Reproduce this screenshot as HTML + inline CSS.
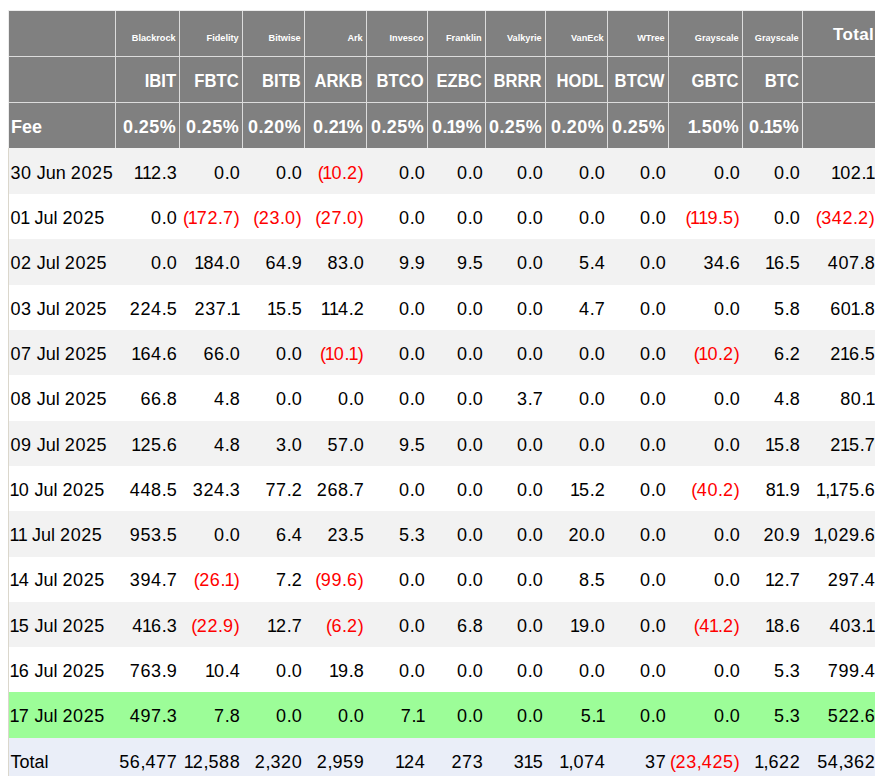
<!DOCTYPE html><html><head><meta charset="utf-8"><style>

html,body{margin:0;padding:0;background:#fff;}
body{width:875px;height:776px;overflow:hidden;position:relative;font-family:"Liberation Sans",sans-serif;}
div{position:absolute;}
.t,.h1,.tot,.h2,.h3,.n{white-space:nowrap;line-height:1;}
.t{font-size:18px;color:#000;}
.t.r{color:#ff0000;}
.t{letter-spacing:0.6px;}
.t .o{letter-spacing:-0.9px;margin-left:-0.9px;}
.t .p{letter-spacing:0;}
.t .q{letter-spacing:-0.5px;}
.h1{font-size:9.2px;font-weight:bold;color:#fff;}
.tot{font-size:17px;font-weight:bold;color:#fff;letter-spacing:0.35px;}
.h2{font-size:17.5px;font-weight:bold;color:#fff;transform:scaleX(0.95);transform-origin:100% 50%;}
.h3{font-size:18px;font-weight:bold;color:#fff;letter-spacing:0.4px;}
.h3 .o{letter-spacing:-1.3px;margin-left:-1.3px;}
.h3.z{letter-spacing:0;}

</style></head><body>
<div style="left:8px;top:10px;width:869px;height:1px;background:#ececec"></div>
<div style="left:8px;top:10px;width:1px;height:138px;background:#ececec"></div>
<div style="left:9px;top:11px;width:868px;height:137px;background:#808080"></div>
<div style="left:9px;top:56px;width:868px;height:1px;background:#dcdcdc"></div>
<div style="left:9px;top:102px;width:868px;height:1px;background:#dcdcdc"></div>
<div style="left:115px;top:11px;width:1px;height:137px;background:#dcdcdc"></div>
<div style="left:179px;top:11px;width:1px;height:137px;background:#dcdcdc"></div>
<div style="left:242px;top:11px;width:1px;height:137px;background:#dcdcdc"></div>
<div style="left:304px;top:11px;width:1px;height:137px;background:#dcdcdc"></div>
<div style="left:366px;top:11px;width:1px;height:137px;background:#dcdcdc"></div>
<div style="left:427px;top:11px;width:1px;height:137px;background:#dcdcdc"></div>
<div style="left:485px;top:11px;width:1px;height:137px;background:#dcdcdc"></div>
<div style="left:545px;top:11px;width:1px;height:137px;background:#dcdcdc"></div>
<div style="left:607px;top:11px;width:1px;height:137px;background:#dcdcdc"></div>
<div style="left:668px;top:11px;width:1px;height:137px;background:#dcdcdc"></div>
<div style="left:742px;top:11px;width:1px;height:137px;background:#dcdcdc"></div>
<div style="left:802px;top:11px;width:1px;height:137px;background:#dcdcdc"></div>
<div style="left:9px;top:148px;width:868px;height:46px;background:#f2f2f2"></div>
<div style="left:9px;top:194px;width:868px;height:45px;background:#ffffff"></div>
<div style="left:9px;top:239px;width:868px;height:46px;background:#f2f2f2"></div>
<div style="left:9px;top:285px;width:868px;height:45px;background:#ffffff"></div>
<div style="left:9px;top:330px;width:868px;height:45px;background:#f2f2f2"></div>
<div style="left:9px;top:375px;width:868px;height:46px;background:#ffffff"></div>
<div style="left:9px;top:421px;width:868px;height:45px;background:#f2f2f2"></div>
<div style="left:9px;top:466px;width:868px;height:45px;background:#ffffff"></div>
<div style="left:9px;top:511px;width:868px;height:46px;background:#f2f2f2"></div>
<div style="left:9px;top:557px;width:868px;height:45px;background:#ffffff"></div>
<div style="left:9px;top:602px;width:868px;height:45px;background:#f2f2f2"></div>
<div style="left:9px;top:647px;width:868px;height:45px;background:#ffffff"></div>
<div style="left:9px;top:692px;width:868px;height:46px;background:#9cfd98"></div>
<div style="left:9px;top:738px;width:868px;height:46px;background:#eaeef8"></div>
<div style="left:8px;top:148px;width:1px;height:640px;background:#dbd7cc"></div>
<div class="h1" style="right:699.30px;top:34.21px">Blackrock</div>
<div class="h2" style="right:699.30px;top:73.19px">IBIT</div>
<div class="h3" style="right:698.90px;top:118.36px">0.25%</div>
<div class="h1" style="right:636.30px;top:34.21px">Fidelity</div>
<div class="h2" style="right:636.30px;top:73.19px">FBTC</div>
<div class="h3" style="right:635.90px;top:118.36px">0.25%</div>
<div class="h1" style="right:574.30px;top:34.21px">Bitwise</div>
<div class="h2" style="right:574.30px;top:73.19px">BITB</div>
<div class="h3" style="right:573.90px;top:118.36px">0.20%</div>
<div class="h1" style="right:512.30px;top:34.21px">Ark</div>
<div class="h2" style="right:512.30px;top:73.19px">ARKB</div>
<div class="h3" style="right:511.90px;top:118.36px">0.2<span class="o">1</span>%</div>
<div class="h1" style="right:451.30px;top:34.21px">Invesco</div>
<div class="h2" style="right:451.30px;top:73.19px">BTCO</div>
<div class="h3" style="right:450.90px;top:118.36px">0.25%</div>
<div class="h1" style="right:393.30px;top:34.21px">Franklin</div>
<div class="h2" style="right:393.30px;top:73.19px">EZBC</div>
<div class="h3" style="right:392.90px;top:118.36px">0.<span class="o">1</span>9%</div>
<div class="h1" style="right:333.30px;top:34.21px">Valkyrie</div>
<div class="h2" style="right:333.30px;top:73.19px">BRRR</div>
<div class="h3" style="right:332.90px;top:118.36px">0.25%</div>
<div class="h1" style="right:271.30px;top:34.21px">VanEck</div>
<div class="h2" style="right:271.30px;top:73.19px">HODL</div>
<div class="h3" style="right:270.90px;top:118.36px">0.20%</div>
<div class="h1" style="right:210.30px;top:34.21px">WTree</div>
<div class="h2" style="right:210.30px;top:73.19px">BTCW</div>
<div class="h3" style="right:209.90px;top:118.36px">0.25%</div>
<div class="h1" style="right:136.30px;top:34.21px">Grayscale</div>
<div class="h2" style="right:136.30px;top:73.19px">GBTC</div>
<div class="h3" style="right:135.90px;top:118.36px"><span class="o">1</span>.50%</div>
<div class="h1" style="right:76.30px;top:34.21px">Grayscale</div>
<div class="h2" style="right:76.30px;top:73.19px">BTC</div>
<div class="h3" style="right:75.90px;top:118.36px">0.<span class="o">1</span>5%</div>
<div class="tot" style="right:0.95px;top:26.11px">Total</div>
<div class="h3 z" style="left:11px;top:118.36px">Fee</div>
<div class="t" style="left:10.5px;top:163.76px">30<span class="p"> </span><span class="p">J</span><span class="p">u</span><span class="p">n</span><span class="p"> </span>2025</div>
<div class="t" style="right:697.70px;top:163.76px"><span class="o">1</span><span class="o">1</span>2<span class="p">.</span>3</div>
<div class="t" style="right:634.70px;top:163.76px">0<span class="p">.</span>0</div>
<div class="t" style="right:572.70px;top:163.76px">0<span class="p">.</span>0</div>
<div class="t r" style="right:511.80px;top:163.76px"><span class="q">(</span><span class="o">1</span>0<span class="p">.</span>2<span class="q">)</span></div>
<div class="t" style="right:449.70px;top:163.76px">0<span class="p">.</span>0</div>
<div class="t" style="right:391.70px;top:163.76px">0<span class="p">.</span>0</div>
<div class="t" style="right:331.70px;top:163.76px">0<span class="p">.</span>0</div>
<div class="t" style="right:269.70px;top:163.76px">0<span class="p">.</span>0</div>
<div class="t" style="right:208.70px;top:163.76px">0<span class="p">.</span>0</div>
<div class="t" style="right:134.70px;top:163.76px">0<span class="p">.</span>0</div>
<div class="t" style="right:74.70px;top:163.76px">0<span class="p">.</span>0</div>
<div class="t" style="right:0.30px;top:163.76px"><span class="o">1</span>02<span class="p">.</span><span class="o">1</span></div>
<div class="t" style="left:10.5px;top:209.06px">0<span class="o">1</span><span class="p"> </span><span class="p">J</span><span class="p">u</span><span class="p">l</span><span class="p"> </span>2025</div>
<div class="t" style="right:697.70px;top:209.06px">0<span class="p">.</span>0</div>
<div class="t r" style="right:635.80px;top:209.06px"><span class="q">(</span><span class="o">1</span>72<span class="p">.</span>7<span class="q">)</span></div>
<div class="t r" style="right:573.80px;top:209.06px"><span class="q">(</span>23<span class="p">.</span>0<span class="q">)</span></div>
<div class="t r" style="right:511.80px;top:209.06px"><span class="q">(</span>27<span class="p">.</span>0<span class="q">)</span></div>
<div class="t" style="right:449.70px;top:209.06px">0<span class="p">.</span>0</div>
<div class="t" style="right:391.70px;top:209.06px">0<span class="p">.</span>0</div>
<div class="t" style="right:331.70px;top:209.06px">0<span class="p">.</span>0</div>
<div class="t" style="right:269.70px;top:209.06px">0<span class="p">.</span>0</div>
<div class="t" style="right:208.70px;top:209.06px">0<span class="p">.</span>0</div>
<div class="t r" style="right:135.80px;top:209.06px"><span class="q">(</span><span class="o">1</span><span class="o">1</span>9<span class="p">.</span>5<span class="q">)</span></div>
<div class="t" style="right:74.70px;top:209.06px">0<span class="p">.</span>0</div>
<div class="t r" style="right:0.80px;top:209.06px"><span class="q">(</span>342<span class="p">.</span>2<span class="q">)</span></div>
<div class="t" style="left:10.5px;top:254.36px">02<span class="p"> </span><span class="p">J</span><span class="p">u</span><span class="p">l</span><span class="p"> </span>2025</div>
<div class="t" style="right:697.70px;top:254.36px">0<span class="p">.</span>0</div>
<div class="t" style="right:634.70px;top:254.36px"><span class="o">1</span>84<span class="p">.</span>0</div>
<div class="t" style="right:572.70px;top:254.36px">64<span class="p">.</span>9</div>
<div class="t" style="right:510.70px;top:254.36px">83<span class="p">.</span>0</div>
<div class="t" style="right:449.70px;top:254.36px">9<span class="p">.</span>9</div>
<div class="t" style="right:391.70px;top:254.36px">9<span class="p">.</span>5</div>
<div class="t" style="right:331.70px;top:254.36px">0<span class="p">.</span>0</div>
<div class="t" style="right:269.70px;top:254.36px">5<span class="p">.</span>4</div>
<div class="t" style="right:208.70px;top:254.36px">0<span class="p">.</span>0</div>
<div class="t" style="right:134.70px;top:254.36px">34<span class="p">.</span>6</div>
<div class="t" style="right:74.70px;top:254.36px"><span class="o">1</span>6<span class="p">.</span>5</div>
<div class="t" style="right:-0.30px;top:254.36px">407<span class="p">.</span>8</div>
<div class="t" style="left:10.5px;top:299.66px">03<span class="p"> </span><span class="p">J</span><span class="p">u</span><span class="p">l</span><span class="p"> </span>2025</div>
<div class="t" style="right:697.70px;top:299.66px">224<span class="p">.</span>5</div>
<div class="t" style="right:635.30px;top:299.66px">237<span class="p">.</span><span class="o">1</span></div>
<div class="t" style="right:572.70px;top:299.66px"><span class="o">1</span>5<span class="p">.</span>5</div>
<div class="t" style="right:510.70px;top:299.66px"><span class="o">1</span><span class="o">1</span>4<span class="p">.</span>2</div>
<div class="t" style="right:449.70px;top:299.66px">0<span class="p">.</span>0</div>
<div class="t" style="right:391.70px;top:299.66px">0<span class="p">.</span>0</div>
<div class="t" style="right:331.70px;top:299.66px">0<span class="p">.</span>0</div>
<div class="t" style="right:269.70px;top:299.66px">4<span class="p">.</span>7</div>
<div class="t" style="right:208.70px;top:299.66px">0<span class="p">.</span>0</div>
<div class="t" style="right:134.70px;top:299.66px">0<span class="p">.</span>0</div>
<div class="t" style="right:74.70px;top:299.66px">5<span class="p">.</span>8</div>
<div class="t" style="right:-0.30px;top:299.66px">60<span class="o">1</span><span class="p">.</span>8</div>
<div class="t" style="left:10.5px;top:344.96px">07<span class="p"> </span><span class="p">J</span><span class="p">u</span><span class="p">l</span><span class="p"> </span>2025</div>
<div class="t" style="right:697.70px;top:344.96px"><span class="o">1</span>64<span class="p">.</span>6</div>
<div class="t" style="right:634.70px;top:344.96px">66<span class="p">.</span>0</div>
<div class="t" style="right:572.70px;top:344.96px">0<span class="p">.</span>0</div>
<div class="t r" style="right:511.80px;top:344.96px"><span class="q">(</span><span class="o">1</span>0<span class="p">.</span><span class="o">1</span><span class="q">)</span></div>
<div class="t" style="right:449.70px;top:344.96px">0<span class="p">.</span>0</div>
<div class="t" style="right:391.70px;top:344.96px">0<span class="p">.</span>0</div>
<div class="t" style="right:331.70px;top:344.96px">0<span class="p">.</span>0</div>
<div class="t" style="right:269.70px;top:344.96px">0<span class="p">.</span>0</div>
<div class="t" style="right:208.70px;top:344.96px">0<span class="p">.</span>0</div>
<div class="t r" style="right:135.80px;top:344.96px"><span class="q">(</span><span class="o">1</span>0<span class="p">.</span>2<span class="q">)</span></div>
<div class="t" style="right:74.70px;top:344.96px">6<span class="p">.</span>2</div>
<div class="t" style="right:-0.30px;top:344.96px">2<span class="o">1</span>6<span class="p">.</span>5</div>
<div class="t" style="left:10.5px;top:390.26px">08<span class="p"> </span><span class="p">J</span><span class="p">u</span><span class="p">l</span><span class="p"> </span>2025</div>
<div class="t" style="right:697.70px;top:390.26px">66<span class="p">.</span>8</div>
<div class="t" style="right:634.70px;top:390.26px">4<span class="p">.</span>8</div>
<div class="t" style="right:572.70px;top:390.26px">0<span class="p">.</span>0</div>
<div class="t" style="right:510.70px;top:390.26px">0<span class="p">.</span>0</div>
<div class="t" style="right:449.70px;top:390.26px">0<span class="p">.</span>0</div>
<div class="t" style="right:391.70px;top:390.26px">0<span class="p">.</span>0</div>
<div class="t" style="right:331.70px;top:390.26px">3<span class="p">.</span>7</div>
<div class="t" style="right:269.70px;top:390.26px">0<span class="p">.</span>0</div>
<div class="t" style="right:208.70px;top:390.26px">0<span class="p">.</span>0</div>
<div class="t" style="right:134.70px;top:390.26px">0<span class="p">.</span>0</div>
<div class="t" style="right:74.70px;top:390.26px">4<span class="p">.</span>8</div>
<div class="t" style="right:0.30px;top:390.26px">80<span class="p">.</span><span class="o">1</span></div>
<div class="t" style="left:10.5px;top:435.56px">09<span class="p"> </span><span class="p">J</span><span class="p">u</span><span class="p">l</span><span class="p"> </span>2025</div>
<div class="t" style="right:697.70px;top:435.56px"><span class="o">1</span>25<span class="p">.</span>6</div>
<div class="t" style="right:634.70px;top:435.56px">4<span class="p">.</span>8</div>
<div class="t" style="right:572.70px;top:435.56px">3<span class="p">.</span>0</div>
<div class="t" style="right:510.70px;top:435.56px">57<span class="p">.</span>0</div>
<div class="t" style="right:449.70px;top:435.56px">9<span class="p">.</span>5</div>
<div class="t" style="right:391.70px;top:435.56px">0<span class="p">.</span>0</div>
<div class="t" style="right:331.70px;top:435.56px">0<span class="p">.</span>0</div>
<div class="t" style="right:269.70px;top:435.56px">0<span class="p">.</span>0</div>
<div class="t" style="right:208.70px;top:435.56px">0<span class="p">.</span>0</div>
<div class="t" style="right:134.70px;top:435.56px">0<span class="p">.</span>0</div>
<div class="t" style="right:74.70px;top:435.56px"><span class="o">1</span>5<span class="p">.</span>8</div>
<div class="t" style="right:-0.30px;top:435.56px">2<span class="o">1</span>5<span class="p">.</span>7</div>
<div class="t" style="left:10.5px;top:480.86px"><span class="o">1</span>0<span class="p"> </span><span class="p">J</span><span class="p">u</span><span class="p">l</span><span class="p"> </span>2025</div>
<div class="t" style="right:697.70px;top:480.86px">448<span class="p">.</span>5</div>
<div class="t" style="right:634.70px;top:480.86px">324<span class="p">.</span>3</div>
<div class="t" style="right:572.70px;top:480.86px">77<span class="p">.</span>2</div>
<div class="t" style="right:510.70px;top:480.86px">268<span class="p">.</span>7</div>
<div class="t" style="right:449.70px;top:480.86px">0<span class="p">.</span>0</div>
<div class="t" style="right:391.70px;top:480.86px">0<span class="p">.</span>0</div>
<div class="t" style="right:331.70px;top:480.86px">0<span class="p">.</span>0</div>
<div class="t" style="right:269.70px;top:480.86px"><span class="o">1</span>5<span class="p">.</span>2</div>
<div class="t" style="right:208.70px;top:480.86px">0<span class="p">.</span>0</div>
<div class="t r" style="right:135.80px;top:480.86px"><span class="q">(</span>40<span class="p">.</span>2<span class="q">)</span></div>
<div class="t" style="right:74.70px;top:480.86px">8<span class="o">1</span><span class="p">.</span>9</div>
<div class="t" style="right:-0.30px;top:480.86px"><span class="o">1</span><span class="p">,</span><span class="o">1</span>75<span class="p">.</span>6</div>
<div class="t" style="left:10.5px;top:526.16px"><span class="o">1</span><span class="o">1</span><span class="p"> </span><span class="p">J</span><span class="p">u</span><span class="p">l</span><span class="p"> </span>2025</div>
<div class="t" style="right:697.70px;top:526.16px">953<span class="p">.</span>5</div>
<div class="t" style="right:634.70px;top:526.16px">0<span class="p">.</span>0</div>
<div class="t" style="right:572.70px;top:526.16px">6<span class="p">.</span>4</div>
<div class="t" style="right:510.70px;top:526.16px">23<span class="p">.</span>5</div>
<div class="t" style="right:449.70px;top:526.16px">5<span class="p">.</span>3</div>
<div class="t" style="right:391.70px;top:526.16px">0<span class="p">.</span>0</div>
<div class="t" style="right:331.70px;top:526.16px">0<span class="p">.</span>0</div>
<div class="t" style="right:269.70px;top:526.16px">20<span class="p">.</span>0</div>
<div class="t" style="right:208.70px;top:526.16px">0<span class="p">.</span>0</div>
<div class="t" style="right:134.70px;top:526.16px">0<span class="p">.</span>0</div>
<div class="t" style="right:74.70px;top:526.16px">20<span class="p">.</span>9</div>
<div class="t" style="right:-0.30px;top:526.16px"><span class="o">1</span><span class="p">,</span>029<span class="p">.</span>6</div>
<div class="t" style="left:10.5px;top:571.46px"><span class="o">1</span>4<span class="p"> </span><span class="p">J</span><span class="p">u</span><span class="p">l</span><span class="p"> </span>2025</div>
<div class="t" style="right:697.70px;top:571.46px">394<span class="p">.</span>7</div>
<div class="t r" style="right:635.80px;top:571.46px"><span class="q">(</span>26<span class="p">.</span><span class="o">1</span><span class="q">)</span></div>
<div class="t" style="right:572.70px;top:571.46px">7<span class="p">.</span>2</div>
<div class="t r" style="right:511.80px;top:571.46px"><span class="q">(</span>99<span class="p">.</span>6<span class="q">)</span></div>
<div class="t" style="right:449.70px;top:571.46px">0<span class="p">.</span>0</div>
<div class="t" style="right:391.70px;top:571.46px">0<span class="p">.</span>0</div>
<div class="t" style="right:331.70px;top:571.46px">0<span class="p">.</span>0</div>
<div class="t" style="right:269.70px;top:571.46px">8<span class="p">.</span>5</div>
<div class="t" style="right:208.70px;top:571.46px">0<span class="p">.</span>0</div>
<div class="t" style="right:134.70px;top:571.46px">0<span class="p">.</span>0</div>
<div class="t" style="right:74.70px;top:571.46px"><span class="o">1</span>2<span class="p">.</span>7</div>
<div class="t" style="right:-0.30px;top:571.46px">297<span class="p">.</span>4</div>
<div class="t" style="left:10.5px;top:616.76px"><span class="o">1</span>5<span class="p"> </span><span class="p">J</span><span class="p">u</span><span class="p">l</span><span class="p"> </span>2025</div>
<div class="t" style="right:697.70px;top:616.76px">4<span class="o">1</span>6<span class="p">.</span>3</div>
<div class="t r" style="right:635.80px;top:616.76px"><span class="q">(</span>22<span class="p">.</span>9<span class="q">)</span></div>
<div class="t" style="right:572.70px;top:616.76px"><span class="o">1</span>2<span class="p">.</span>7</div>
<div class="t r" style="right:511.80px;top:616.76px"><span class="q">(</span>6<span class="p">.</span>2<span class="q">)</span></div>
<div class="t" style="right:449.70px;top:616.76px">0<span class="p">.</span>0</div>
<div class="t" style="right:391.70px;top:616.76px">6<span class="p">.</span>8</div>
<div class="t" style="right:331.70px;top:616.76px">0<span class="p">.</span>0</div>
<div class="t" style="right:269.70px;top:616.76px"><span class="o">1</span>9<span class="p">.</span>0</div>
<div class="t" style="right:208.70px;top:616.76px">0<span class="p">.</span>0</div>
<div class="t r" style="right:135.80px;top:616.76px"><span class="q">(</span>4<span class="o">1</span><span class="p">.</span>2<span class="q">)</span></div>
<div class="t" style="right:74.70px;top:616.76px"><span class="o">1</span>8<span class="p">.</span>6</div>
<div class="t" style="right:0.30px;top:616.76px">403<span class="p">.</span><span class="o">1</span></div>
<div class="t" style="left:10.5px;top:662.06px"><span class="o">1</span>6<span class="p"> </span><span class="p">J</span><span class="p">u</span><span class="p">l</span><span class="p"> </span>2025</div>
<div class="t" style="right:697.70px;top:662.06px">763<span class="p">.</span>9</div>
<div class="t" style="right:634.70px;top:662.06px"><span class="o">1</span>0<span class="p">.</span>4</div>
<div class="t" style="right:572.70px;top:662.06px">0<span class="p">.</span>0</div>
<div class="t" style="right:510.70px;top:662.06px"><span class="o">1</span>9<span class="p">.</span>8</div>
<div class="t" style="right:449.70px;top:662.06px">0<span class="p">.</span>0</div>
<div class="t" style="right:391.70px;top:662.06px">0<span class="p">.</span>0</div>
<div class="t" style="right:331.70px;top:662.06px">0<span class="p">.</span>0</div>
<div class="t" style="right:269.70px;top:662.06px">0<span class="p">.</span>0</div>
<div class="t" style="right:208.70px;top:662.06px">0<span class="p">.</span>0</div>
<div class="t" style="right:134.70px;top:662.06px">0<span class="p">.</span>0</div>
<div class="t" style="right:74.70px;top:662.06px">5<span class="p">.</span>3</div>
<div class="t" style="right:-0.30px;top:662.06px">799<span class="p">.</span>4</div>
<div class="t" style="left:10.5px;top:707.36px"><span class="o">1</span>7<span class="p"> </span><span class="p">J</span><span class="p">u</span><span class="p">l</span><span class="p"> </span>2025</div>
<div class="t" style="right:697.70px;top:707.36px">497<span class="p">.</span>3</div>
<div class="t" style="right:634.70px;top:707.36px">7<span class="p">.</span>8</div>
<div class="t" style="right:572.70px;top:707.36px">0<span class="p">.</span>0</div>
<div class="t" style="right:510.70px;top:707.36px">0<span class="p">.</span>0</div>
<div class="t" style="right:450.30px;top:707.36px">7<span class="p">.</span><span class="o">1</span></div>
<div class="t" style="right:391.70px;top:707.36px">0<span class="p">.</span>0</div>
<div class="t" style="right:331.70px;top:707.36px">0<span class="p">.</span>0</div>
<div class="t" style="right:270.30px;top:707.36px">5<span class="p">.</span><span class="o">1</span></div>
<div class="t" style="right:208.70px;top:707.36px">0<span class="p">.</span>0</div>
<div class="t" style="right:134.70px;top:707.36px">0<span class="p">.</span>0</div>
<div class="t" style="right:74.70px;top:707.36px">5<span class="p">.</span>3</div>
<div class="t" style="right:-0.30px;top:707.36px">522<span class="p">.</span>6</div>
<div class="t" style="left:10.5px;top:752.66px"><span class="p">T</span><span class="p">o</span><span class="p">t</span><span class="p">a</span><span class="p">l</span></div>
<div class="t" style="right:697.70px;top:752.66px">56<span class="p">,</span>477</div>
<div class="t" style="right:634.70px;top:752.66px"><span class="o">1</span>2<span class="p">,</span>588</div>
<div class="t" style="right:572.70px;top:752.66px">2<span class="p">,</span>320</div>
<div class="t" style="right:510.70px;top:752.66px">2<span class="p">,</span>959</div>
<div class="t" style="right:449.70px;top:752.66px"><span class="o">1</span>24</div>
<div class="t" style="right:391.70px;top:752.66px">273</div>
<div class="t" style="right:331.70px;top:752.66px">3<span class="o">1</span>5</div>
<div class="t" style="right:269.70px;top:752.66px"><span class="o">1</span><span class="p">,</span>074</div>
<div class="t" style="right:208.70px;top:752.66px">37</div>
<div class="t r" style="right:135.80px;top:752.66px"><span class="q">(</span>23<span class="p">,</span>425<span class="q">)</span></div>
<div class="t" style="right:74.70px;top:752.66px"><span class="o">1</span><span class="p">,</span>622</div>
<div class="t" style="right:-0.30px;top:752.66px">54<span class="p">,</span>362</div>
</body></html>
